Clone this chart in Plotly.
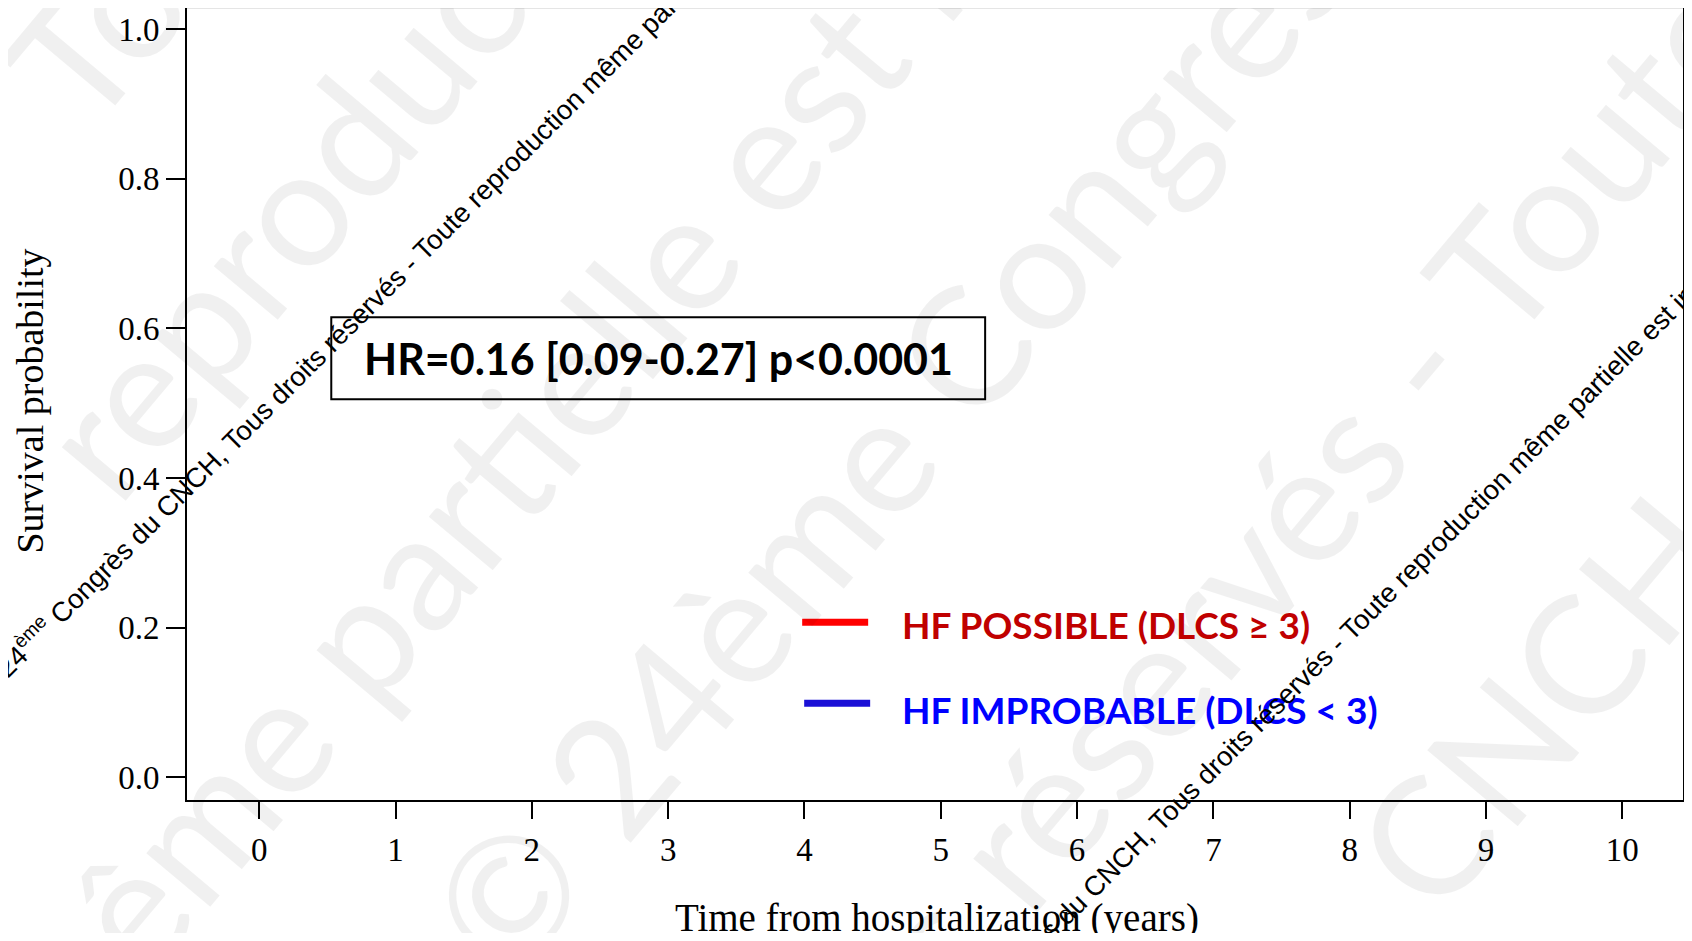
import plotly.graph_objects as go

# ---------------- data ----------------
groups = ["HF POSSIBLE (DLCS ≥ 3)", "HF IMPROBABLE (DLCS < 3)"]
# survival curves are not visible in the reference picture -> empty series
time_possible = []
surv_possible = []
time_improbable = []
surv_improbable = []

x_ticks = [0, 1, 2, 3, 4, 5, 6, 7, 8, 9, 10]
x_tick_labels = ["0", "1", "2", "3", "4", "5", "6", "7", "8", "9", "10"]
y_ticks = [0.0, 0.2, 0.4, 0.6, 0.8, 1.0]
y_tick_labels = ["0.0", "0.2", "0.4", "0.6", "0.8", "1.0"]

hr_text = "HR=0.16 [0.09-0.27] p<0.0001"
x_title = "Time from hospitalization (years)"
y_title = "Survival probability"
small_watermark = ("24<sup>ème</sup> Congrès du CNCH, Tous droits réservés - "
                   "Toute reproduction même partielle est interdite")
big_watermark_words = ["Toute", "reproduction", "même partielle est interdite",
                       "© 24ème Congrès", "Tous droits réservés - Toute", "CNCH"]

# ---------------- geometry (page pixels; page body has an 8px margin) ----------------
OFF = 8
W, H = 1676, 925
PL, PR, PT, PB = 186.7, 1683.0, 8.0, 799.6      # plot area in page pixels
ML = PL - OFF
MR = W - (PR - OFF)
MT = PT - OFF
MB = H - (PB - OFF)


def px(x):
    return (x - PL) / (PR - PL)


def py(y):
    return (PB - y) / (PB - PT)


line_colors = ["#FF0000", "#1A10D6"]
text_colors = ["#C00000", "#0000FF"]
serif = "Liberation Serif"
bold_sans = "Lato"

fig = go.Figure()
for name, xs, ys, col in [(groups[0], time_possible, surv_possible, line_colors[0]),
                          (groups[1], time_improbable, surv_improbable, line_colors[1])]:
    fig.add_trace(go.Scatter(x=xs, y=ys, mode="lines", name=name,
                             line=dict(color=col, width=3, shape="hv"),
                             showlegend=False))

annotations = []

# big faint watermark
big_pos = [(171, -61), (370, 110), (650, 283), (885, 440), (1084, 757), (1540, 700)]
for word, (wx, wy) in zip(big_watermark_words, big_pos):
    annotations.append(dict(text=word, x=px(wx), y=py(wy), xref="paper", yref="paper",
                            xanchor="center", yanchor="middle", textangle=-50,
                            showarrow=False,
                            font=dict(family="Lato", size=165, color="rgba(0,0,0,0.06)")))

# axis titles
annotations.append(dict(text=x_title, x=px(937), y=py(918), xref="paper", yref="paper",
                        xanchor="center", yanchor="middle", showarrow=False,
                        font=dict(family=serif, size=39, color="black")))
annotations.append(dict(text=y_title, x=px(30), y=py(401), xref="paper", yref="paper",
                        xanchor="center", yanchor="middle", showarrow=False, textangle=-90,
                        font=dict(family=serif, size=38, color="black")))

# HR text
annotations.append(dict(text="<b>" + hr_text + "</b>", x=px(658), y=py(358),
                        xref="paper", yref="paper", xanchor="center", yanchor="middle",
                        showarrow=False, font=dict(family=bold_sans, size=43, color="black")))

# legend texts
leg_text_y = [624, 709]
for name, col, ty in zip(groups, text_colors, leg_text_y):
    annotations.append(dict(text="<b>" + name + "</b>", x=px(900), y=py(ty),
                            xref="paper", yref="paper", xanchor="left", yanchor="middle",
                            showarrow=False, font=dict(family=bold_sans, size=37, color=col)))

# small diagonal watermark lines
for (sx, sy) in [(-15, 686), (912, 1066)]:
    annotations.append(dict(text=small_watermark, x=px(sx), y=py(sy), xref="paper", yref="paper",
                            xanchor="left", yanchor="bottom", textangle=-45, showarrow=False,
                            font=dict(family="Liberation Sans", size=27.5, color="black")))

shapes = []
# top frame line (light)
shapes.append(dict(type="line", xref="paper", yref="paper", x0=0, x1=1, y0=1, y1=1,
                   line=dict(color="#DCDCDC", width=1.5)))
# HR box
shapes.append(dict(type="rect", xref="paper", yref="paper",
                   x0=px(331), x1=px(985), y0=py(399), y1=py(317),
                   line=dict(color="black", width=2), fillcolor="rgba(0,0,0,0)"))
# legend line samples
leg_lines = [(802, 868, 622), (804, 870, 703)]
for col, (x0, x1, yy) in zip(line_colors, leg_lines):
    shapes.append(dict(type="line", xref="paper", yref="paper",
                       x0=px(x0), x1=px(x1), y0=py(yy), y1=py(yy),
                       line=dict(color=col, width=7)))

fig.update_layout(
    width=W, height=H,
    margin=dict(l=ML, r=MR, t=MT, b=MB, pad=0),
    paper_bgcolor="white", plot_bgcolor="white",
    showlegend=False,
    annotations=annotations,
    shapes=shapes,
    xaxis=dict(range=[-0.53, 10.445], tickvals=x_ticks, ticktext=x_tick_labels,
               showgrid=False, zeroline=False, showline=True, linecolor="black",
               linewidth=2, mirror=False, ticks="outside", ticklen=17, tickwidth=1.5,
               tickcolor="black", ticklabelstandoff=2,
               tickfont=dict(family=serif, size=33, color="black")),
    yaxis=dict(range=[-0.0302, 1.028], tickvals=y_ticks, ticktext=y_tick_labels,
               showgrid=False, zeroline=False, showline=True, linecolor="black",
               linewidth=2, mirror=True, ticks="outside", ticklen=19, tickwidth=1.5,
               tickcolor="black", ticklabelstandoff=0,
               tickfont=dict(family=serif, size=33, color="black")),
)

fig.write_html("out.html")
